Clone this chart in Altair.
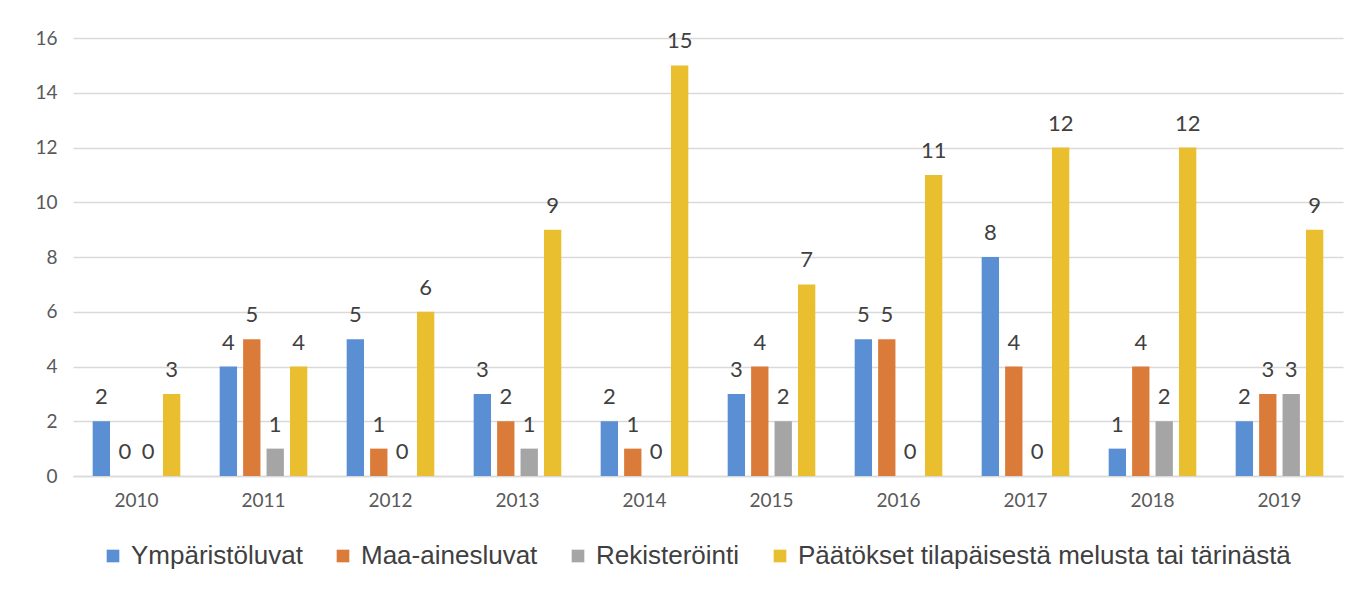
import altair as alt
import pandas as pd

years = ["2010", "2011", "2012", "2013", "2014", "2015", "2016", "2017", "2018", "2019"]
series = ["Ympäristöluvat", "Maa-ainesluvat", "Rekisteröinti",
          "Päätökset tilapäisestä melusta tai tärinästä"]
ymparistoluvat = [2, 4, 5, 3, 2, 3, 5, 8, 1, 2]
maa_ainesluvat = [0, 5, 1, 2, 1, 4, 5, 4, 4, 3]
rekisterointi = [0, 1, 0, 1, 0, 2, 0, 0, 2, 3]
paatokset = [3, 4, 6, 9, 15, 7, 11, 12, 12, 9]
colors = ["#5A8FD3", "#DB7B3A", "#A5A5A5", "#E9BE2F"]

rows = []
for name, vals in zip(series, [ymparistoluvat, maa_ainesluvat, rekisterointi, paatokset]):
    for y, v in zip(years, vals):
        rows.append({"Vuosi": y, "Sarja": name, "Arvo": v})
df = pd.DataFrame(rows)

x = alt.X("Vuosi:N", sort=years, title=None,
          scale=alt.Scale(paddingInner=0.31, paddingOuter=0.155),
          axis=alt.Axis(labelAngle=0, tickSize=0, labelPadding=15, labelFont="Lato",
                        labelFontSize=19, labelColor="#595959", domainColor="#d9d9d9",
                        domainWidth=1.5))
xo = alt.XOffset("Sarja:N", sort=series,
                 scale=alt.Scale(paddingInner=0.26, paddingOuter=0))
y = alt.Y("Arvo:Q", title=None,
          scale=alt.Scale(domain=[0, 16]),
          axis=alt.Axis(values=list(range(0, 17, 2)), tickSize=0, domain=False,
                        labelPadding=16, labelFont="Lato", labelFontSize=19,
                        labelColor="#595959", gridColor="#d9d9d9", gridWidth=1.5))

base = alt.Chart(df)
bars = base.mark_bar().encode(
    x=x, xOffset=xo, y=y,
    color=alt.Color("Sarja:N", sort=series,
                    scale=alt.Scale(domain=series, range=colors),
                    legend=alt.Legend(title=None, orient="none", legendX=27, legendY=505,
                                      direction="horizontal",
                                      symbolType="square", symbolSize=160,
                                      symbolStrokeWidth=0, labelFont="Liberation Sans",
                                      labelFontSize=26, labelColor="#404040",
                                      labelLimit=800, columnPadding=27, labelOffset=5)),
)
labels = base.mark_text(baseline="alphabetic", dy=-17, font="Lato", fontSize=22,
                        color="#404040").encode(
    x=x, xOffset=xo, y=y, text="Arvo:Q")

chart = (bars + labels).properties(width=1270, height=438).configure(
    autosize=alt.AutoSizeParams(type="none"),
    padding={"left": 65, "top": 30, "right": 7, "bottom": 100},
).configure_view(stroke=None)

chart.save("out.html", embed_options={"renderer": "svg", "actions": False})
